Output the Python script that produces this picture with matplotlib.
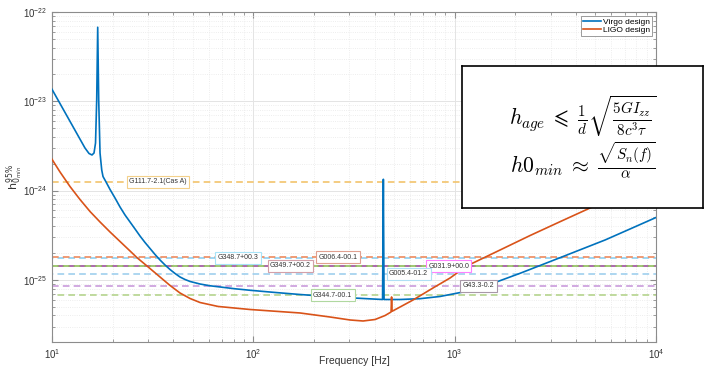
import numpy as np
import matplotlib
matplotlib.use('Agg')
import matplotlib.pyplot as plt

plt.rcParams['font.family'] = ['Liberation Sans', 'DejaVu Sans']

# Virgo design sensitivity
virgo_f = [10, 14.58, 15.27, 15.80, 16.17, 16.45, 16.674, 16.866, 17.06, 17.32, 17.66, 17.92,
           18.55, 19.42, 20.56, 21.77, 23.05, 24.41, 25.85, 27.36, 28.97, 30.68, 32.49, 34.40,
           36.43, 38.57, 40.84, 43.24, 45.79, 48.48, 54.36, 60.95, 68.34, 81.10, 96.30, 128.2,
           170.6, 227.1, 302.2, 438.4, 442.4, 446.0, 535.6, 673.1, 846.0, 1101, 1337.6, 1587.7,
           2112.5, 3338.7, 5586, 7185, 10000]
virgo_h = [1.362e-23, 3.0e-24, 2.603e-24, 2.505e-24, 2.637e-24, 3.41e-24, 1.034e-23, 6.74e-23,
           1.034e-23, 2.637e-24, 1.70e-24, 1.438e-24, 1.249e-24, 1.029e-24, 8.26e-25, 6.55e-25,
           5.33e-25, 4.45e-25, 3.715e-25, 3.10e-25, 2.623e-25, 2.247e-25, 1.925e-25, 1.670e-25,
           1.468e-25, 1.307e-25, 1.179e-25, 1.077e-25, 1.010e-25, 9.60e-26, 8.99e-26, 8.59e-26,
           8.33e-26, 7.95e-26, 7.65e-26, 7.23e-26, 6.86e-26, 6.55e-26, 6.30e-26, 6.03e-26,
           1.338e-24, 6.03e-26, 6.03e-26, 6.16e-26, 6.52e-26, 7.32e-26, 8.22e-26, 9.35e-26,
           1.185e-25, 1.773e-25, 2.798e-25, 3.593e-25, 4.997e-25]

# LIGO design sensitivity
ligo_f = [10, 10.958, 12.286, 13.772, 15.448, 17.32, 19.42, 21.77, 24.41, 26.44, 29.64, 34.40,
          38.57, 43.24, 48.48, 54.36, 66.80, 96.30, 170.6, 240.5, 302.2, 350.8, 402.3, 451.1,
          483.2, 486.0, 488.8, 535.6, 621.5, 781.0, 948.7, 1148.7, 1681.1, 2369.5, 3338.7,
          4705, 10000]
ligo_h = [2.241e-24, 1.616e-24, 1.111e-24, 7.95e-25, 5.83e-25, 4.45e-25, 3.439e-25, 2.692e-25,
          2.107e-25, 1.773e-25, 1.431e-25, 1.077e-25, 8.66e-26, 7.13e-26, 6.19e-26, 5.58e-26,
          5.04e-26, 4.66e-26, 4.26e-26, 3.84e-26, 3.556e-26, 3.465e-26, 3.60e-26, 3.99e-26,
          4.37e-26, 6.44e-26, 4.45e-26, 4.97e-26, 5.96e-26, 8.12e-26, 1.050e-25, 1.431e-25,
          2.162e-25, 3.14e-25, 4.486e-25, 6.385e-25, 1.384e-24]

# supernova remnants: age-based upper limits
snr_names = ['G111.7-2.1(Cas A)', 'G348.7+00.3', 'G006.4-00.1', 'G349.7+00.2',
             'G031.9+00.0', 'G005.4-01.2', 'G43.3-0.2', 'G344.7-00.1']
snr_h = [1.26e-24, 1.76e-25, 1.785e-25, 1.445e-25, 1.43e-25, 1.164e-25, 8.55e-26, 6.73e-26]
snr_label_f = [33.6, 84, 263.6, 153, 932.6, 590, 1314, 247.4]
snr_line_colors = ['#F2C46C', '#8FD0F0', '#EE8A5E', '#9E4F9E', '#8FBF5A', '#9FCFEE',
                   '#C99BDB', '#B5D48E']
snr_box_colors = ['#F3D08A', '#A8E4F8', '#E0A090', '#D4A0A8', '#FF80FF', '#B0E0F4',
                  '#A898A8', '#B0D8A0']

fig = plt.figure(figsize=(7.04, 3.66), dpi=100)
ax = fig.add_axes([52 / 704, 1 - 342.3 / 366, (656 - 52) / 704, (342.3 - 12) / 366])

ax.set_xscale('log')
ax.set_yscale('log')
ax.set_xlim(10, 1e4)
ax.set_ylim(2e-26, 1e-22)

# matlab-like grid
ax.grid(True, which='major', color='#E4E4E4', linewidth=0.7, linestyle='-')
ax.grid(True, which='minor', color='#E8E8E8', linewidth=0.6, linestyle=':')
ax.set_axisbelow(True)
for sp in ax.spines.values():
    sp.set_color('#8C8C8C')
    sp.set_linewidth(0.8)
ax.tick_params(which='both', direction='in', colors='#8C8C8C', labelcolor='#333333',
               top=True, right=True, labelsize=7)
ax.tick_params(which='major', length=4)
ax.tick_params(which='minor', length=2)

# horizontal dashed lines with their labels
for i, (name, h, fl, lc, bc) in enumerate(zip(snr_names, snr_h, snr_label_f,
                                               snr_line_colors, snr_box_colors)):
    ax.axhline(h, color=lc, linestyle=(3.2 * (i % 2), (4, 2.5)), linewidth=1.2, zorder=2)
    ax.text(fl, h, name, fontsize=5, color='#333333',
            ha='center', va='center', zorder=5,
            bbox=dict(boxstyle='square,pad=0.35', fc='white', ec=bc, lw=0.8))

ax.plot(virgo_f, virgo_h, color='#0072BD', linewidth=1.2, label='Virgo design', zorder=3)
ax.plot(ligo_f, ligo_h, color='#D95319', linewidth=1.2, label='LIGO design', zorder=3)

leg = ax.legend(loc='upper right', fontsize=6, handlelength=2.2, borderpad=0.25,
                labelspacing=0.1, handletextpad=0.2, borderaxespad=0.45, fancybox=False,
                framealpha=1)
leg.get_frame().set_edgecolor('#8C8C8C')
leg.get_frame().set_linewidth(0.6)

ax.set_xlabel('Frequency [Hz]', fontsize=7.5, color='#333333', va='top')
ax.xaxis.set_label_coords(0.5, -0.04)
ax.set_ylabel(r'$\mathrm{h}_{0_{min}}^{95\%}$', fontsize=8, color='#333333', va='center')
ax.yaxis.set_label_coords(-0.062, 0.5)

# formula box sitting over the plot
box = fig.add_axes([462 / 704, 1 - 208 / 366, 241 / 704, 142 / 366])
box.set_xticks([])
box.set_yticks([])
box.set_facecolor('white')
for sp in box.spines.values():
    sp.set_color('black')
    sp.set_linewidth(1.2)
box.text(0.5, 0.645, r'$h_{age}\;\leqslant\;\frac{1}{d}\sqrt{\frac{5GI_{zz}}{8c^3\tau}}$',
         fontsize=15.5, math_fontfamily='cm', ha='center', va='center', transform=box.transAxes)
box.text(0.5, 0.335, r'$h0_{min}\;\approx\;\frac{\sqrt{S_n(f)}}{\alpha}$',
         fontsize=15.5, math_fontfamily='cm', ha='center', va='center', transform=box.transAxes)

fig.savefig('out.png', dpi=100)
